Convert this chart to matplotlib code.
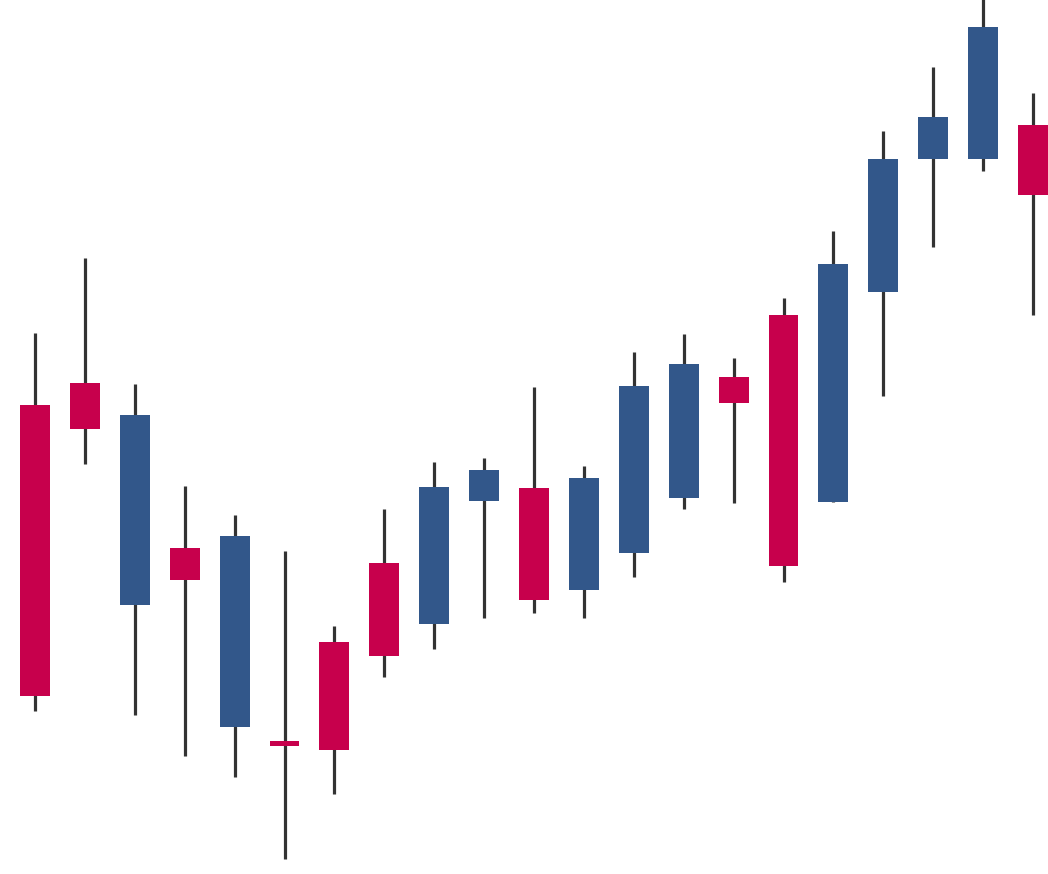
import numpy as np
import matplotlib
matplotlib.use("Agg")
import matplotlib.pyplot as plt

# OHLC values
opens = [146.9, 149.1, 126.9, 132.6, 114.7, 113.3, 123.2, 131.1, 125.0, 137.3, 138.6,
         128.4, 132.1, 137.6, 149.7, 155.9, 137.2, 158.2, 171.5, 171.5, 174.9]
highs = [154.1, 161.6, 149.0, 138.8, 135.9, 132.3, 124.8, 136.5, 141.2, 141.6, 148.7,
         140.8, 152.2, 154.0, 151.6, 157.6, 164.3, 174.3, 180.7, 188.0, 178.1]
lows = [116.3, 141.0, 115.9, 111.8, 109.7, 101.5, 108.0, 119.7, 122.5, 125.6, 126.1,
        125.6, 129.7, 136.5, 137.1, 129.2, 137.2, 147.8, 162.7, 170.3, 155.9]
closes = [117.8, 144.5, 145.9, 129.4, 133.8, 112.8, 112.4, 121.8, 138.7, 140.4, 127.4,
          139.6, 148.8, 151.0, 147.1, 130.8, 161.0, 171.5, 175.7, 184.7, 167.9]

UP = "#32578a"
DOWN = "#c7004c"
WICK = "#333333"

o = np.array(opens)
c = np.array(closes)
x = np.arange(len(o))
colors = [UP if cc >= oo else DOWN for oo, cc in zip(o, c)]

fig = plt.figure(figsize=(10.48, 8.74), dpi=100)
ax = fig.add_axes([0, 0, 1, 1])

ax.vlines(x, lows, highs, color=WICK, linewidth=2.3, zorder=1)
ax.bar(x, np.abs(c - o), bottom=np.minimum(o, c), width=0.6,
       color=colors, linewidth=0, zorder=2)

ax.set_xlim(-0.7014, 20.30)
ax.set_ylim(100, 187.4)
ax.axis("off")

fig.savefig("out.png", dpi=100, facecolor="white")
